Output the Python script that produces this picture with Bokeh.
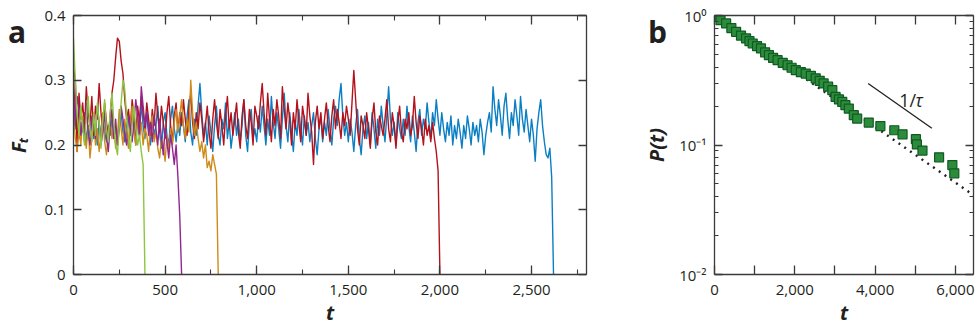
import numpy as np
from bokeh.plotting import figure
from bokeh.layouts import row
from bokeh.models import (Range1d, LinearAxis, LogAxis, SingleIntervalTicker, FixedTicker,
                          NumeralTickFormatter, CustomJSTickFormatter, Label, Div)
from bokeh.embed import file_html
from bokeh.resources import INLINE

# ---------------- Panel a data (t step = 10) ----------------
T_STEP = 10
green_F = [0.365, 0.300, 0.245, 0.215, 0.260, 0.230, 0.200, 0.245, 0.275, 0.225,
           0.205, 0.250, 0.215, 0.265, 0.235, 0.195, 0.240, 0.270, 0.225, 0.205,
           0.250, 0.280, 0.235, 0.200, 0.185, 0.230, 0.265, 0.300, 0.285, 0.245,
           0.210, 0.190, 0.230, 0.260, 0.225, 0.200, 0.215, 0.190, 0.170, 0.0]
purple_F = [0.310, 0.230, 0.275, 0.255, 0.215, 0.240, 0.205, 0.265, 0.220, 0.200,
            0.245, 0.230, 0.210, 0.260, 0.235, 0.200, 0.220, 0.250, 0.215, 0.190,
            0.230, 0.255, 0.210, 0.240, 0.200, 0.225, 0.260, 0.240, 0.215, 0.200,
            0.245, 0.230, 0.205, 0.235, 0.270, 0.245, 0.215, 0.290, 0.260, 0.230,
            0.250, 0.215, 0.235, 0.205, 0.245, 0.225, 0.200, 0.240, 0.210, 0.185,
            0.225, 0.205, 0.180, 0.215, 0.195, 0.170, 0.200, 0.150, 0.090, 0.0]
orange_F = [0.250, 0.210, 0.190, 0.225, 0.200, 0.245, 0.215, 0.195, 0.230, 0.180,
            0.210, 0.240, 0.200, 0.225, 0.190, 0.215, 0.250, 0.205, 0.185, 0.220,
            0.240, 0.210, 0.230, 0.195, 0.215, 0.255, 0.225, 0.200, 0.240, 0.215,
            0.195, 0.230, 0.260, 0.220, 0.200, 0.245, 0.210, 0.235, 0.200, 0.225,
            0.215, 0.190, 0.230, 0.245, 0.205, 0.220, 0.195, 0.180, 0.210, 0.200,
            0.175, 0.215, 0.190, 0.225, 0.200, 0.235, 0.255, 0.220, 0.245, 0.270,
            0.230, 0.210, 0.240, 0.220, 0.300, 0.250, 0.215, 0.235, 0.210, 0.190,
            0.205, 0.180, 0.200, 0.165, 0.175, 0.160, 0.185, 0.170, 0.155, 0.0]
red_F = [0.320, 0.300, 0.190, 0.280, 0.240, 0.265, 0.225, 0.290, 0.250, 0.230,
         0.275, 0.215, 0.260, 0.240, 0.295, 0.250, 0.220, 0.265, 0.235, 0.210,
         0.245, 0.280, 0.300, 0.335, 0.365, 0.360, 0.330, 0.310, 0.270, 0.240,
         0.255, 0.225, 0.270, 0.245, 0.215, 0.260, 0.235, 0.275, 0.250, 0.225,
         0.265, 0.240, 0.215, 0.255, 0.230, 0.280, 0.245, 0.220, 0.260, 0.235,
         0.210, 0.250, 0.275, 0.230, 0.205, 0.245, 0.265, 0.220, 0.250, 0.230,
         0.270, 0.240, 0.215, 0.255, 0.280, 0.235, 0.210, 0.250, 0.225, 0.265,
         0.240, 0.205, 0.230, 0.260, 0.220, 0.195, 0.240, 0.270, 0.235, 0.210,
         0.255, 0.230, 0.200, 0.245, 0.275, 0.225, 0.250, 0.215, 0.240, 0.265,
         0.220, 0.195, 0.245, 0.270, 0.230, 0.210, 0.255, 0.235, 0.200, 0.260,
         0.245, 0.225, 0.265, 0.295, 0.250, 0.215, 0.280, 0.240, 0.205, 0.255,
         0.230, 0.270, 0.245, 0.210, 0.290, 0.255, 0.225, 0.265, 0.240, 0.200,
         0.250, 0.225, 0.270, 0.235, 0.205, 0.260, 0.240, 0.215, 0.280, 0.245,
         0.220, 0.170, 0.235, 0.260, 0.225, 0.250, 0.210, 0.240, 0.265, 0.230,
         0.205, 0.245, 0.270, 0.225, 0.255, 0.235, 0.210, 0.250, 0.230, 0.260,
         0.240, 0.215, 0.265, 0.315, 0.270, 0.225, 0.200, 0.245, 0.230, 0.210,
         0.250, 0.225, 0.195, 0.240, 0.265, 0.220, 0.200, 0.245, 0.230, 0.215,
         0.240, 0.270, 0.225, 0.205, 0.250, 0.230, 0.195, 0.235, 0.260, 0.220,
         0.205, 0.240, 0.225, 0.250, 0.215, 0.230, 0.275, 0.235, 0.210, 0.245,
         0.225, 0.200, 0.240, 0.215, 0.230, 0.205, 0.235, 0.210, 0.190, 0.160,
         0.0]
blue_F = [0.260, 0.225, 0.245, 0.210, 0.235, 0.220, 0.250, 0.205, 0.230, 0.215,
          0.240, 0.210, 0.225, 0.200, 0.235, 0.215, 0.245, 0.220, 0.205, 0.230,
          0.215, 0.240, 0.210, 0.225, 0.200, 0.235, 0.250, 0.220, 0.205, 0.230,
          0.245, 0.215, 0.260, 0.225, 0.200, 0.240, 0.215, 0.265, 0.230, 0.210,
          0.250, 0.225, 0.200, 0.240, 0.215, 0.230, 0.260, 0.220, 0.195, 0.235,
          0.250, 0.215, 0.200, 0.240, 0.260, 0.225, 0.205, 0.235, 0.215, 0.250,
          0.230, 0.205, 0.245, 0.270, 0.220, 0.200, 0.240, 0.215, 0.260, 0.295,
          0.250, 0.215, 0.235, 0.200, 0.245, 0.220, 0.190, 0.230, 0.260, 0.215,
          0.200, 0.240, 0.225, 0.265, 0.210, 0.235, 0.195, 0.220, 0.250, 0.215,
          0.240, 0.205, 0.230, 0.270, 0.215, 0.190, 0.235, 0.255, 0.210, 0.225,
          0.205, 0.245, 0.220, 0.260, 0.230, 0.200, 0.240, 0.215, 0.275, 0.235,
          0.210, 0.250, 0.225, 0.195, 0.240, 0.280, 0.230, 0.205, 0.250, 0.220,
          0.190, 0.235, 0.215, 0.255, 0.225, 0.200, 0.245, 0.215, 0.235, 0.205,
          0.230, 0.250, 0.210, 0.185, 0.225, 0.245, 0.205, 0.235, 0.215, 0.255,
          0.225, 0.200, 0.240, 0.260, 0.230, 0.270, 0.295, 0.245, 0.215, 0.235,
          0.205, 0.240, 0.220, 0.190, 0.230, 0.255, 0.210, 0.185, 0.225, 0.245,
          0.210, 0.235, 0.200, 0.250, 0.225, 0.195, 0.240, 0.215, 0.260, 0.230,
          0.205, 0.245, 0.290, 0.240, 0.215, 0.235, 0.200, 0.250, 0.225, 0.210,
          0.240, 0.215, 0.260, 0.230, 0.205, 0.245, 0.220, 0.190, 0.235, 0.255,
          0.215, 0.240, 0.225, 0.265, 0.235, 0.210, 0.250, 0.230, 0.270, 0.240,
          0.215, 0.250, 0.225, 0.205, 0.235, 0.215, 0.245, 0.200, 0.230, 0.210,
          0.240, 0.220, 0.195, 0.230, 0.210, 0.245, 0.225, 0.200, 0.235, 0.215,
          0.230, 0.205, 0.240, 0.220, 0.185, 0.215, 0.235, 0.250, 0.220, 0.290,
          0.255, 0.230, 0.270, 0.245, 0.215, 0.260, 0.280, 0.240, 0.210, 0.250,
          0.230, 0.270, 0.245, 0.215, 0.275, 0.240, 0.220, 0.255, 0.230, 0.205,
          0.240, 0.215, 0.175, 0.225, 0.250, 0.270, 0.230, 0.205, 0.185, 0.180,
          0.195, 0.150, 0.0]

series_a = [  # (values, colour) drawn in this order
    (blue_F, "#0b7fc3"),
    (red_F, "#b3121c"),
    (orange_F, "#cf8a17"),
    (purple_F, "#93278f"),
    (green_F, "#8cc63f"),
]

# ---------------- Panel b data ----------------
surv_t = [0, 42, 150, 290, 420, 538, 660, 786, 870, 952, 1060, 1157, 1260, 1355, 1460,
          1571, 1700, 1819, 1920, 2025, 2150, 2272, 2400, 2520, 2620, 2718, 2830, 2934,
          3016, 3100, 3182, 3260, 3345, 3469, 3553, 3841, 4131, 4478, 4683, 5015, 5040,
          5179, 5593, 5923, 5972]
surv_P = [1.0, 0.977, 0.92, 0.869, 0.80, 0.748, 0.70, 0.665, 0.635, 0.608, 0.58, 0.557,
          0.52, 0.494, 0.47, 0.452, 0.43, 0.413, 0.395, 0.378, 0.366, 0.356, 0.342, 0.327,
          0.313, 0.299, 0.282, 0.265, 0.235, 0.225, 0.215, 0.203, 0.191, 0.170, 0.160,
          0.149, 0.140, 0.130, 0.121, 0.111, 0.101, 0.0906, 0.0803, 0.0700, 0.0604]
fit_t = [0, 6450]
fit_P = [1.0, 0.041]
slope_t = [3826, 5413]
slope_P = [0.298, 0.1346]
slope_label_t = 4600
slope_label_P = 0.222

y_ticks_a = [0, 0.1, 0.2, 0.3, 0.4]
x_ticks_b = [0, 1000, 2000, 3000, 4000, 5000, 6000]
y_ticks_b = [0.01, 0.1, 1.0]
y_minor_b = [0.02, 0.03, 0.04, 0.05, 0.06, 0.07, 0.08, 0.09,
             0.2, 0.3, 0.4, 0.5, 0.6, 0.7, 0.8, 0.9]
panel_letters = ["a", "b"]

INK = "#231f20"
FONT = "Open Sans"
W1, W2, H = 640, 338, 330


def style_axis(ax, tick_len=9, minor_len=5, labels=True):
    ax.axis_line_color = "#3a3a3a"
    ax.axis_line_width = 1.3
    ax.major_tick_line_color = "#3a3a3a"
    ax.major_tick_line_width = 1.3
    ax.minor_tick_line_color = "#3a3a3a"
    ax.minor_tick_line_width = 1.1
    ax.major_tick_in = tick_len
    ax.major_tick_out = 0
    ax.minor_tick_in = minor_len
    ax.minor_tick_out = 0
    ax.major_label_text_font = FONT
    ax.major_label_text_color = INK
    if labels:
        ax.major_label_text_font_size = "15px"
        ax.major_label_standoff = 8
    else:
        ax.major_label_text_font_size = "1px"
        ax.major_label_text_alpha = 0
        ax.major_label_standoff = 0
    ax.axis_label_text_font = FONT
    ax.axis_label_text_font_style = "bold italic"
    ax.axis_label_text_font_size = "20px"
    ax.axis_label_text_color = INK


# ---------------- Panel a ----------------
p1 = figure(width=W1, height=H, output_backend="svg", toolbar_location=None,
            x_range=Range1d(0, 2800), y_range=Range1d(0, 0.4),
            min_border_left=73, min_border_right=54, min_border_top=15, min_border_bottom=56,
            x_axis_type=None, y_axis_type=None)
p1.outline_line_color = None
p1.grid.visible = False

for vals, col in series_a:
    t = np.arange(len(vals)) * T_STEP
    p1.line(t, vals, line_color=col, line_width=1.4, line_join="round")

for loc in ("below", "above"):
    ax = LinearAxis(ticker=SingleIntervalTicker(interval=500, num_minor_ticks=2),
                    formatter=NumeralTickFormatter(format="0,0"))
    style_axis(ax, labels=(loc == "below"))
    if loc == "below":
        ax.axis_label = "t"
        ax.major_label_standoff = 10
        ax.axis_label_standoff = 1
    p1.add_layout(ax, loc)
for loc in ("left", "right"):
    ax = LinearAxis(ticker=FixedTicker(ticks=y_ticks_a),
                    formatter=CustomJSTickFormatter(code="return tick == 0 ? '0' : tick.toFixed(1);"))
    style_axis(ax, tick_len=8, labels=(loc == "left"))
    ax.minor_tick_line_color = None
    if loc == "left":
        ax.axis_label = "F\u209c"
        ax.axis_label_standoff = 9
    p1.add_layout(ax, loc)

# ---------------- Panel b ----------------
p2 = figure(width=W2, height=H, output_backend="svg", toolbar_location=None,
            x_range=Range1d(0, 6450), y_range=Range1d(0.01, 1.0), y_axis_type="log",
            min_border_left=73, min_border_right=5, min_border_top=15, min_border_bottom=56,
            x_axis_type=None)
p2.outline_line_color = None
p2.grid.visible = False
for r in list(p2.left):
    p2.left.remove(r)

p2.line(fit_t, fit_P, line_color=INK, line_width=2.4, line_dash="2 5")
p2.scatter(surv_t, surv_P, marker="square", size=9, fill_color="#2c8c3c",
           line_color="#0f5b22", line_width=1.2)
p2.line(slope_t, slope_P, line_color=INK, line_width=1.3)
p2.add_layout(Label(x=slope_label_t, y=slope_label_P, text="1/", text_font=FONT,
                    text_font_size="18px", text_color=INK, text_baseline="alphabetic"))
p2.add_layout(Label(x=slope_label_t, y=slope_label_P, x_offset=16, text="\u03c4", text_font=FONT,
                    text_font_size="18px", text_font_style="italic", text_color=INK,
                    text_baseline="alphabetic"))

for loc in ("below", "above"):
    ax = LinearAxis(ticker=FixedTicker(ticks=x_ticks_b),
                    formatter=CustomJSTickFormatter(code="""
                        if (tick % 2000 != 0) return '';
                        return tick.toLocaleString('en-US');"""))
    style_axis(ax, labels=(loc == "below"))
    if loc == "below":
        ax.axis_label = "t"
        ax.major_label_standoff = 10
        ax.axis_label_standoff = 1
    p2.add_layout(ax, loc)

sup_code = """
const e = Math.round(Math.log10(tick));
const sup = {'-':'\u207b','0':'\u2070','1':'\u00b9','2':'\u00b2','3':'\u00b3','4':'\u2074',
             '5':'\u2075','6':'\u2076','7':'\u2077','8':'\u2078','9':'\u2079'};
return '10' + String(e).split('').map(c => sup[c]).join('');
"""
for loc in ("left", "right"):
    ax = LogAxis(ticker=FixedTicker(ticks=y_ticks_b, minor_ticks=y_minor_b),
                 formatter=CustomJSTickFormatter(code=sup_code))
    style_axis(ax, tick_len=8, minor_len=4, labels=(loc == "left"))
    if loc == "left":
        ax.axis_label = "P(t)"
        ax.axis_label_standoff = 6
    p2.add_layout(ax, loc)

# panel letters, placed over the figures' left margins
letter_style = {"position": "absolute", "font-family": "'Open Sans'", "font-weight": "bold",
                "font-size": "30px", "line-height": "30px", "color": INK, "margin": "0",
                "padding": "0"}
div_a = Div(text=panel_letters[0], styles=dict(letter_style, left="8px", top="17px"))
div_b = Div(text=panel_letters[1], styles=dict(letter_style, left="648px", top="17px"))

layout = row(p1, p2, div_a, div_b)
open("out.html", "w").write(file_html(layout, INLINE))
